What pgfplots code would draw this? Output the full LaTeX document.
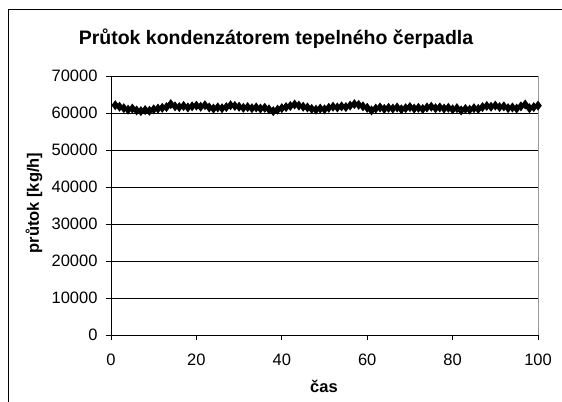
\documentclass[border=0pt]{standalone}
\usepackage{pgfplots}
\pgfplotsset{compat=1.18}
\usepackage{fontspec}
\setmainfont{Liberation Sans}
\begin{document}
\begin{tikzpicture}[x=1bp,y=1bp]
\path[use as bounding box, clip] (0,0) rectangle (562,401);
\fill[white] (0,0) rectangle (562,401);
\draw[black, line width=1bp] (8,391) rectangle (620,-20);
\begin{axis}[
  at={(111bp,66bp)}, anchor=south west,
  scale only axis, width=427bp, height=259bp,
  xmin=0, xmax=100, ymin=0, ymax=70000,
  xtick={0,20,...,100}, ytick={0,10000,...,70000},
  xtick pos=bottom, ytick pos=left,
  scaled y ticks=false,
  /pgf/number format/assume math mode=true,
  /pgf/number format/fixed,
  /pgf/number format/1000 sep={},
  tick label style={font=\fontsize{16.5bp}{18bp}\selectfont},
  x tick label style={yshift=-10bp},
  y tick label style={xshift=-5bp},
  tick align=outside, major tick length=5bp,
  tick style={black, line width=0.8bp},
  axis line style={draw=none},
  ymajorgrids, grid style={black, line width=0.8bp},
  clip=false,
]
\draw[black, line width=1bp] (rel axis cs:0,1) -- (rel axis cs:0,0) -- (rel axis cs:1,0);
\draw[gray!80, line width=1bp] (rel axis cs:1,0) -- (rel axis cs:1,1);
\addplot[black, line width=1.5bp, mark=diamond*, mark size=3.8bp] coordinates {
(1,62100)(2,61700)(3,61300)(4,60900)(5,61200)(6,60700)(7,60500)(8,60800)(9,60600)(10,61000)
(11,61200)(12,61400)(13,61600)(14,62400)(15,61800)(16,61600)(17,61900)(18,61500)(19,61800)(20,62000)
(21,61700)(22,62100)(23,61500)(24,61200)(25,61500)(26,61300)(27,61600)(28,62100)(29,61900)(30,61700)
(31,61400)(32,61600)(33,61300)(34,61500)(35,61200)(36,61400)(37,61000)(38,60500)(39,60900)(40,61300)
(41,61600)(42,61900)(43,62300)(44,62000)(45,61700)(46,61500)(47,61100)(48,60900)(49,61200)(50,61000)
(51,61400)(52,61700)(53,61500)(54,61800)(55,61600)(56,62000)(57,62400)(58,62200)(59,61800)(60,61400)
(61,60700)(62,61200)(63,61500)(64,61100)(65,61400)(66,61200)(67,61500)(68,61000)(69,61300)(70,61600)
(71,61200)(72,61400)(73,61100)(74,61500)(75,61700)(76,61300)(77,61500)(78,61200)(79,61400)(80,61000)
(81,61300)(82,60700)(83,61100)(84,60900)(85,61300)(86,61100)(87,61600)(88,61900)(89,61700)(90,62000)
(91,61600)(92,61800)(93,61300)(94,61500)(95,61200)(96,61800)(97,62300)(98,61300)(99,61600)(100,62000)
};
\end{axis}
\node[font=\bfseries\fontsize{19.5bp}{22bp}\selectfont] at (276,362) {Průtok kondenzátorem tepelného čerpadla};
\node[font=\bfseries\fontsize{16.5bp}{18bp}\selectfont, rotate=90] at (34,198) {průtok [kg/h]};
\node[font=\bfseries\fontsize{16.5bp}{18bp}\selectfont] at (324,15) {čas};
\end{tikzpicture}
\end{document}
